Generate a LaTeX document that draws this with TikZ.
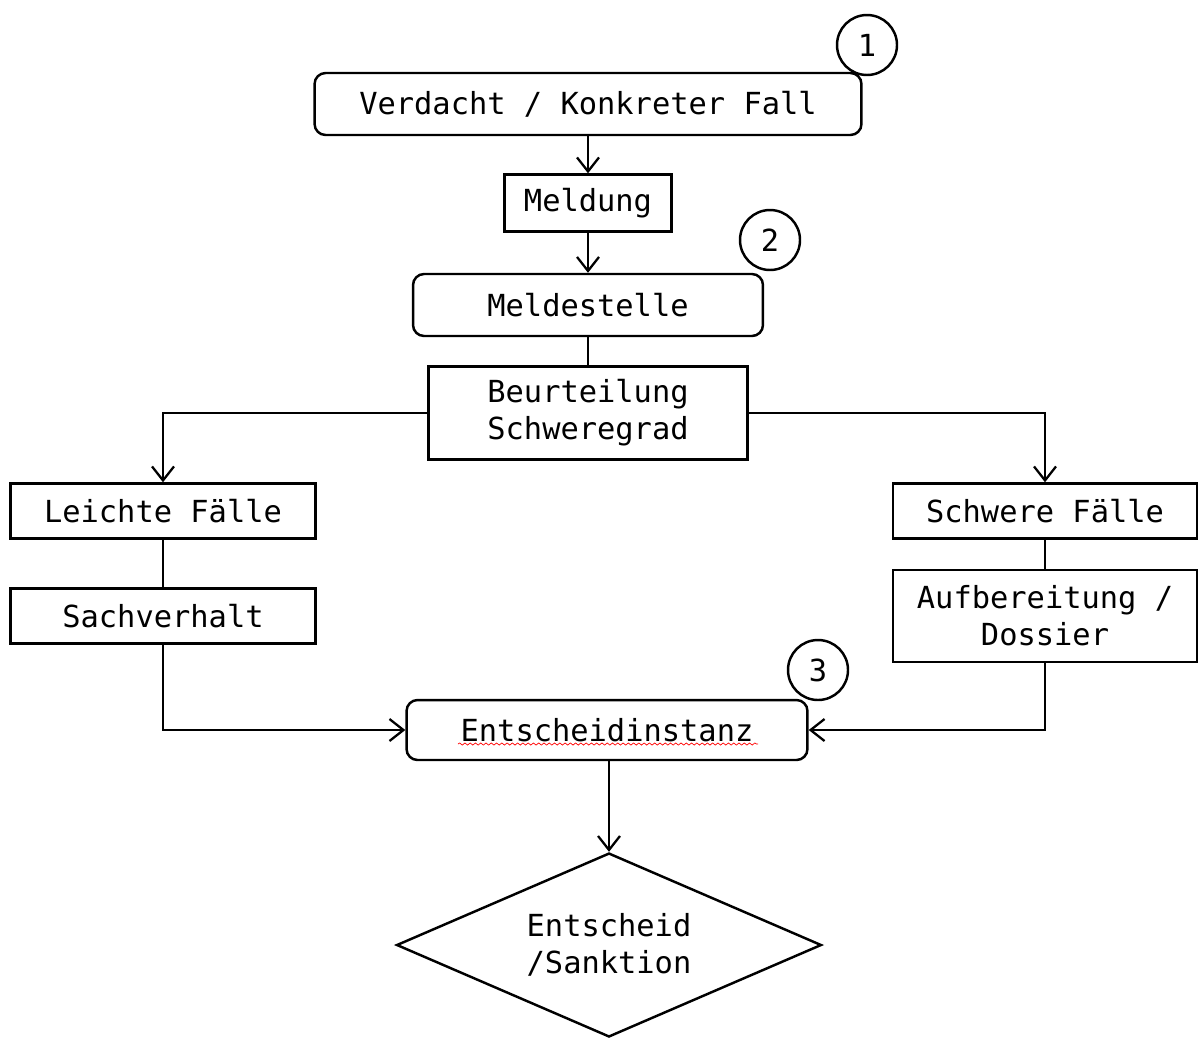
\documentclass[tikz,border=0pt]{standalone}
\usepackage{fontspec}
\setmonofont{DejaVu Sans Mono}
\usetikzlibrary{arrows.meta,shapes.geometric,decorations.pathmorphing}

\tikzset{
  flow/.style={draw, line width=1.4pt, align=center, inner sep=0pt,
    font=\ttfamily\fontsize{17.3}{21}\selectfont},
  roundbox/.style={flow, rounded corners=0.22cm},
  plainbox/.style={flow},
  decision/.style={flow, diamond, aspect=2.3},
  stepnum/.style={flow, circle, minimum size=1.2cm},
  conn/.style={line width=1.3pt},
  arr/.style={conn, -{Straight Barb[length=0.28cm,width=0.44cm]}},
}

\begin{document}
\begin{tikzpicture}[x=0.02cm, y=-0.02cm]
\useasboundingbox (0,0) rectangle (1199,1039);
% Main column
\node[roundbox, minimum width=10.94cm, minimum height=1.24cm] (verdacht) at (588,104) {Verdacht / Konkreter Fall};
\node[plainbox, minimum width=3.34cm, minimum height=1.14cm] (meldung) at (588,203) {Meldung};
\node[roundbox, minimum width=7cm, minimum height=1.24cm] (meldestelle) at (588,305) {Meldestelle};
\node[plainbox, minimum width=6.38cm, minimum height=1.86cm] (beurteilung) at (588,413) {Beurteilung\\Schweregrad};
% Left branch
\node[plainbox, minimum width=6.1cm, minimum height=1.1cm] (leichte) at (163,511) {Leichte Fälle};
\node[plainbox, minimum width=6.1cm, minimum height=1.1cm] (sachverhalt) at (163,616) {Sachverhalt};
% Right branch
\node[plainbox, minimum width=6.08cm, minimum height=1.1cm] (schwere) at (1045,511) {Schwere Fälle};
\node[plainbox, minimum width=6.08cm, minimum height=1.84cm] (dossier) at (1045,616) {Aufbereitung /\\Dossier};
% Decision
\node[roundbox, minimum width=8.02cm, minimum height=1.2cm] (instanz) at (607,730) {Entscheidinstanz};
\node[decision, minimum width=8.5cm, minimum height=3.68cm] (sanktion) at (609,945) {Entscheid\\/Sanktion};
% Step numbers
\node[stepnum] (n1) at (867,45) {1};
\node[stepnum] (n2) at (770,240) {2};
\node[stepnum] (n3) at (818,670) {3};
% Spell-check squiggle
\draw[red, line width=0.4pt, decorate, decoration={snake, amplitude=0.6pt, segment length=3pt}]
  (458,744) -- (758,744);
% Connectors
\draw[arr] (verdacht) -- (meldung);
\draw[arr] (meldung) -- (meldestelle);
\draw[conn] (meldestelle) -- (beurteilung);
\draw[arr] (beurteilung.west) -| (leichte);
\draw[arr] (beurteilung.east) -| (schwere);
\draw[conn] (leichte) -- (sachverhalt);
\draw[conn] (schwere) -- (dossier);
\draw[arr] (sachverhalt) |- (instanz);
\draw[arr] (dossier) |- (instanz);
\draw[arr] (instanz.south -| sanktion.north) -- (sanktion);
\end{tikzpicture}
\end{document}
